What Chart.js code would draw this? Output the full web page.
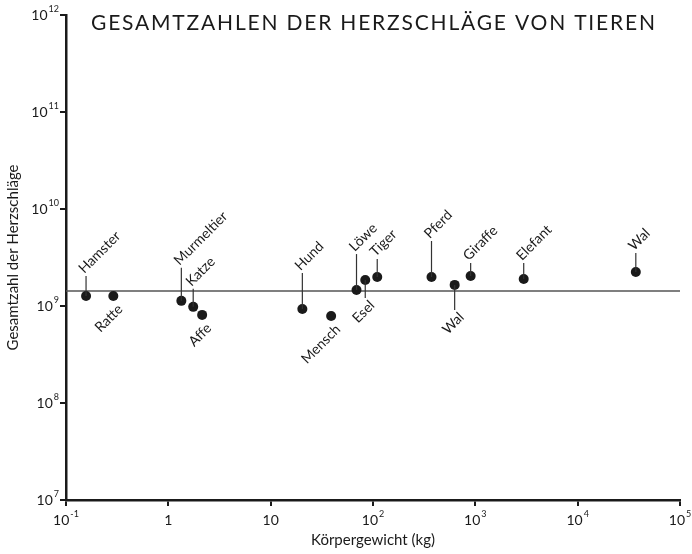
<!DOCTYPE html>
<html>
<head>
<meta charset="utf-8">
<script src="https://cdn.jsdelivr.net/npm/chart.js@4.4.0/dist/chart.umd.min.js"></script>
<style>
  html, body { margin: 0; padding: 0; background: #fff; }
  #wrap { width: 692px; height: 554px; }
</style>
</head>
<body>
<div id="wrap"><canvas id="chart"></canvas></div>
<script>
// Daten
const animals = ['Hamster', 'Ratte', 'Murmeltier', 'Katze', 'Affe', 'Hund', 'Mensch', 'Löwe',
  'Esel', 'Tiger', 'Pferd', 'Wal', 'Giraffe', 'Elefant', 'Wal'];
const bodyWeight = [0.157, 0.29, 1.34, 1.75, 2.14, 20.4, 39, 69, 84, 110, 373, 628, 900, 2970, 37000];
const heartbeats = [1.27e9, 1.27e9, 1.13e9, 0.98e9, 0.81e9, 0.93e9, 0.79e9, 1.46e9, 1.85e9,
  1.99e9, 1.99e9, 1.65e9, 2.04e9, 1.9e9, 2.24e9];
const averageBeats = 1.43e9;

const xTicks = [0.1, 1, 10, 100, 1e3, 1e4, 1e5];
const xTickLabels = [['10', '-1'], ['1', ''], ['10', ''], ['10', '2'], ['10', '3'], ['10', '4'], ['10', '5']];
const yTicks = [1e7, 1e8, 1e9, 1e10, 1e11, 1e12];
const yTickLabels = [['10', '7'], ['10', '8'], ['10', '9'], ['10', '10'], ['10', '11'], ['10', '12']];

const titleText = 'GESAMTZAHLEN DER HERZSCHLÄGE VON TIEREN';
const xTitle = 'Körpergewicht (kg)';
const yTitle = 'Gesamtzahl der Herzschläge';

// Beschriftung: oben/unten und Länge der Hinweislinie
const labelSide = ['up', 'down', 'up', 'up', 'down', 'up', 'down', 'up', 'down', 'up', 'up', 'down', 'up', 'up', 'up'];
const leaderLen = [20, 0, 33, 18, 0, 36, 0, 36, 18, 18, 36, 25, 13, 16, 19];

const FONT = 'Lato, "Open Sans", sans-serif';
const INK = '#1a1a1a';

const labelPlugin = {
  id: 'labels',
  afterDatasetsDraw(chart) {
    const ctx = chart.ctx;
    const meta = chart.getDatasetMeta(0);
    ctx.save();
    ctx.strokeStyle = '#333';
    ctx.lineWidth = 1.2;
    ctx.fillStyle = INK;
    ctx.font = '14px ' + FONT;
    meta.data.forEach((pt, i) => {
      const x = pt.x, y = pt.y;
      const len = leaderLen[i];
      let ax, ay;
      if (labelSide[i] === 'up') {
        if (len > 0) {
          ctx.beginPath(); ctx.moveTo(x, y); ctx.lineTo(x, y - len); ctx.stroke();
        }
        ax = x - 5; ay = y - len - 5;
        ctx.save();
        ctx.translate(ax, ay);
        ctx.rotate(-Math.PI / 4);
        ctx.textAlign = 'left';
        ctx.textBaseline = 'middle';
        ctx.fillText(animals[i], 0, 0);
        ctx.restore();
      } else {
        if (len > 0) {
          ctx.beginPath(); ctx.moveTo(x, y); ctx.lineTo(x, y + len); ctx.stroke();
        }
        const end = len > 0 ? y + len : y + 6;
        ax = x + 7; ay = end + 5;
        ctx.save();
        ctx.translate(ax, ay);
        ctx.rotate(-Math.PI / 4);
        ctx.textAlign = 'right';
        ctx.textBaseline = 'middle';
        ctx.fillText(animals[i], 0, 0);
        ctx.restore();
      }
    });
    ctx.restore();
  },
  afterDraw(chart) {
    const ctx = chart.ctx;
    const xs = chart.scales.x, ys = chart.scales.y;
    const area = chart.chartArea;
    ctx.save();
    ctx.fillStyle = INK;

    // Titel
    ctx.font = '21px ' + FONT;
    ctx.textBaseline = 'middle';
    ctx.textAlign = 'left';
    const w0 = ctx.measureText(titleText).width;
    const target = 564;
    ctx.letterSpacing = ((target - w0) / (titleText.length - 1)).toFixed(2) + 'px';
    ctx.fillText(titleText, 91, 23);
    ctx.letterSpacing = '0px';

    // y-Achse Beschriftung
    yTicks.forEach((v, i) => {
      const py = ys.getPixelForValue(v);
      const [base, exp] = yTickLabels[i];
      ctx.font = '9px ' + FONT;
      const ew = ctx.measureText(exp).width;
      ctx.textAlign = 'right';
      ctx.textBaseline = 'middle';
      ctx.fillText(exp, area.left - 7, py - 6);
      ctx.font = '14px ' + FONT;
      ctx.fillText(base, area.left - 8 - ew, py);
    });

    // x-Achse Beschriftung
    xTicks.forEach((v, i) => {
      const px = xs.getPixelForValue(v);
      const [base, exp] = xTickLabels[i];
      ctx.font = '14px ' + FONT;
      const bw = ctx.measureText(base).width;
      ctx.font = '9px ' + FONT;
      const ew = exp ? ctx.measureText(exp).width + 1 : 0;
      const left = px - (bw + ew) / 2;
      ctx.textAlign = 'left';
      ctx.textBaseline = 'middle';
      ctx.font = '14px ' + FONT;
      ctx.fillText(base, left, area.bottom + 20);
      if (exp) {
        ctx.font = '9px ' + FONT;
        ctx.fillText(exp, left + bw + 1, area.bottom + 14);
      }
    });

    // Achsentitel
    ctx.font = '15px ' + FONT;
    ctx.textAlign = 'center';
    ctx.textBaseline = 'middle';
    ctx.fillText(xTitle, (area.left + area.right) / 2, 540);
    ctx.save();
    ctx.translate(13, (area.top + area.bottom) / 2);
    ctx.rotate(-Math.PI / 2);
    ctx.fillText(yTitle, 0, 0);
    ctx.restore();
    ctx.restore();
  }
};

new Chart(document.getElementById('chart'), {
  type: 'scatter',
  data: {
    datasets: [
      {
        label: 'Tiere',
        data: animals.map((a, i) => ({ x: bodyWeight[i], y: heartbeats[i] })),
        pointRadius: 5,
        pointHoverRadius: 5,
        backgroundColor: INK,
        borderWidth: 0
      },
      {
        label: 'Durchschnitt',
        data: [{ x: xTicks[0], y: averageBeats }, { x: xTicks[xTicks.length - 1], y: averageBeats }],
        showLine: true,
        pointRadius: 0,
        borderColor: '#555',
        borderWidth: 1.5
      }
    ]
  },
  options: {
    responsive: true,
    maintainAspectRatio: false,
    animation: false,
    layout: { padding: { top: 15, right: 12, left: 0, bottom: 0 } },
    plugins: { legend: { display: false }, tooltip: { enabled: false }, title: { display: false } },
    scales: {
      x: {
        type: 'logarithmic',
        min: 0.1,
        max: 1e5,
        afterBuildTicks: s => { s.ticks = xTicks.map(v => ({ value: v })); },
        afterFit: s => { s.height = 54; },
        ticks: { display: false },
        grid: { display: true, drawOnChartArea: false, drawTicks: true, tickLength: 6, color: INK, lineWidth: 2 },
        border: { display: true, color: INK, width: 2.5 }
      },
      y: {
        type: 'logarithmic',
        min: 1e7,
        max: 1e12,
        afterBuildTicks: s => { s.ticks = yTicks.map(v => ({ value: v })); },
        afterFit: s => { s.width = 66; },
        ticks: { display: false },
        grid: { display: true, drawOnChartArea: false, drawTicks: true, tickLength: 6, color: INK, lineWidth: 2 },
        border: { display: true, color: INK, width: 2.5 }
      }
    }
  },
  plugins: [labelPlugin]
});
</script>
</body>
</html>
